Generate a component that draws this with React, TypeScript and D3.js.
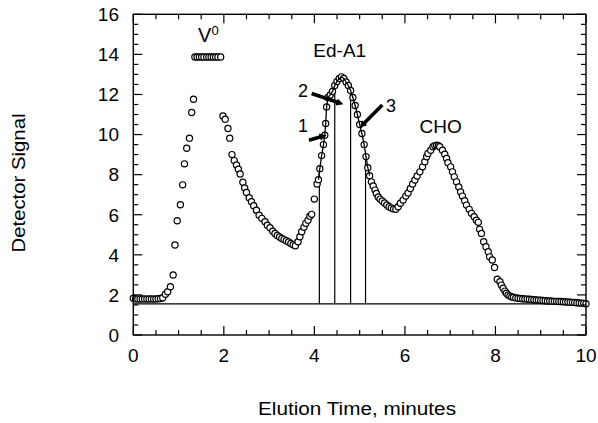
import React from "react";
import * as d3 from "d3";

const times = [
  0.0, 0.05, 0.1, 0.15, 0.2, 0.25, 0.3, 0.35, 0.4, 0.45, 0.5, 0.55, 0.6, 0.65,
  0.71, 0.76, 0.82, 0.88, 0.92, 0.97, 1.04, 1.09, 1.13, 1.18, 1.24, 1.29, 1.33,
  1.36, 1.41, 1.46, 1.51, 1.56, 1.62, 1.67, 1.72, 1.77, 1.82, 1.87, 1.93,
  1.98, 2.03, 2.09, 2.13, 2.18, 2.23, 2.28, 2.32, 2.36, 2.42, 2.46, 2.5, 2.56,
  2.61, 2.66, 2.72, 2.78, 2.84, 2.91, 2.96, 3.02, 3.08, 3.13, 3.18, 3.23, 3.28,
  3.33, 3.38, 3.43, 3.48, 3.53, 3.58, 3.64, 3.68, 3.72, 3.77, 3.81, 3.86, 3.9,
  3.94, 4.0, 4.06, 4.09,
  4.12, 4.16, 4.2, 4.23, 4.25, 4.27, 4.3, 4.35, 4.4, 4.45, 4.5, 4.55, 4.6,
  4.65, 4.7, 4.75, 4.8, 4.85, 4.9, 4.95, 5.0, 5.05, 5.1, 5.14, 5.18, 5.22,
  5.26, 5.3, 5.34, 5.37, 5.41, 5.45, 5.5, 5.55, 5.6, 5.65, 5.7, 5.75, 5.8,
  5.85, 5.9, 5.96, 6.02, 6.07, 6.12, 6.17, 6.22, 6.27, 6.33, 6.39, 6.44, 6.48,
  6.51, 6.57, 6.62, 6.66, 6.7, 6.74, 6.77, 6.83, 6.88, 6.92, 6.95, 7.01, 7.05,
  7.09, 7.14, 7.19, 7.23, 7.27, 7.32, 7.36, 7.42, 7.47, 7.53, 7.58, 7.62, 7.65,
  7.69, 7.74, 7.79, 7.84, 7.87, 7.93, 7.98, 8.04, 8.1, 8.13, 8.17, 8.21, 8.24,
  8.28, 8.32, 8.36, 8.4, 8.45, 8.5,
  8.55, 8.6, 8.65, 8.7, 8.75, 8.8, 8.85, 8.9, 8.95, 9.0, 9.05, 9.1, 9.15, 9.2,
  9.25, 9.3, 9.35, 9.4, 9.45, 9.5, 9.55, 9.6, 9.65, 9.7, 9.75, 9.8, 9.85, 9.9,
  9.95, 10.0,
];

const signal = [
  1.83, 1.8, 1.8, 1.79, 1.8, 1.8, 1.79, 1.8, 1.8, 1.79, 1.8, 1.81, 1.82, 1.86,
  2.03, 2.16, 2.41, 2.99, 4.49, 5.7, 6.5, 7.49, 8.54, 9.32, 9.82, 11.1, 11.76,
  13.87, 13.87, 13.87, 13.87, 13.87, 13.87, 13.87, 13.87, 13.87, 13.87, 13.87, 13.87,
  10.93, 10.77, 10.3, 9.82, 9.0, 8.7, 8.48, 8.27, 8.03, 7.62, 7.34, 7.11, 6.85,
  6.65, 6.45, 6.23, 5.98, 5.82, 5.65, 5.48, 5.35, 5.18, 5.07, 4.97, 4.89, 4.82,
  4.76, 4.7, 4.64, 4.57, 4.5, 4.45, 4.65, 4.9, 5.15, 5.37, 5.57, 5.73, 5.93,
  6.02, 6.78, 7.53, 7.75,
  8.3, 8.95, 9.5, 9.97, 10.55, 11.38, 11.85, 11.98, 12.15, 12.45, 12.65, 12.8, 12.88,
  12.8, 12.62, 12.45, 12.2, 11.85, 11.45, 11.0, 10.5, 10.05, 9.5, 8.9, 8.35, 7.95,
  7.64, 7.43, 7.23, 7.06, 6.89, 6.78, 6.69, 6.59, 6.49, 6.4, 6.34, 6.29, 6.27,
  6.4, 6.57, 6.73, 6.93, 7.09, 7.31, 7.53, 7.73, 7.93, 8.14, 8.39, 8.64, 8.89,
  9.06, 9.22, 9.39, 9.45, 9.47, 9.44, 9.39, 9.22, 9.02, 8.81, 8.59, 8.39, 8.14,
  7.89, 7.64, 7.39, 7.14, 6.93, 6.7, 6.48, 6.27, 6.07, 5.9, 5.73, 5.62, 5.27,
  5.07, 4.65, 4.4, 4.15, 3.9, 3.74, 3.37, 2.78, 2.66, 2.49, 2.33, 2.19, 2.08,
  2.0, 1.94, 1.9, 1.88, 1.85, 1.83,
  1.82, 1.81, 1.8, 1.79, 1.78, 1.77, 1.76, 1.75, 1.74, 1.73, 1.72, 1.71, 1.7, 1.7,
  1.69, 1.68, 1.68, 1.67, 1.67, 1.66, 1.65, 1.65, 1.64, 1.63, 1.62, 1.61, 1.6, 1.59,
  1.58, 1.56,
];

const baselineLevel = 1.55;
const fractionCuts = [4.11, 4.45, 4.8, 5.13];
const peakLineRange = [4.09, 5.22];

const xTicksMajor = [0, 2, 4, 6, 8, 10];
const yTicksMajor = [0, 2, 4, 6, 8, 10, 12, 14, 16];

const peakLabels = [
  { text: "Ed-A1", x: 4.56, y: 13.86 },
  { text: "CHO", x: 6.79, y: 10.07 },
];
const fractionLabels = [
  { text: "1", x: 3.75, y: 10.12 },
  { text: "2", x: 3.75, y: 11.86 },
  { text: "3", x: 5.69, y: 11.12 },
];
const arrows = [
  { x1: 3.88, y1: 9.72, x2: 4.27, y2: 9.97 },
  { x1: 3.94, y1: 12.05, x2: 4.64, y2: 11.51 },
  { x1: 5.5, y1: 11.47, x2: 5.0, y2: 10.34 },
];

const W = 598;
const H = 423;
const M = { left: 133.3, right: 586, top: 14.3, bottom: 335 };
const FONT = "'Liberation Sans', Arial, Helvetica, sans-serif";

export default function App() {
  const x = d3.scaleLinear().domain([0, 10]).range([M.left, M.right]);
  const y = d3.scaleLinear().domain([0, 16]).range([M.bottom, M.top]);

  const pts = times.map((t, i) => [t, signal[i]] as [number, number]);
  const peakPts = pts.filter((p) => p[0] >= peakLineRange[0] && p[0] <= peakLineRange[1]);
  const line = d3
    .line<[number, number]>()
    .x((d) => x(d[0]))
    .y((d) => y(d[1]));

  const curveAt = (t: number) => {
    const i = d3.bisector((d: [number, number]) => d[0]).left(pts, t);
    const a = pts[Math.max(0, i - 1)];
    const b = pts[Math.min(pts.length - 1, i)];
    if (b[0] === a[0]) return a[1];
    return a[1] + ((t - a[0]) / (b[0] - a[0])) * (b[1] - a[1]);
  };

  const xMinor = d3.range(0, 10.001, 0.5);
  const yMinor = d3.range(0, 16.001, 0.5);
  const isMajor = (v: number, step: number) => Math.abs(v / step - Math.round(v / step)) < 1e-6;
  const majorLen = 9;
  const minorLen = 5;

  const arrowPoly = (a: { x1: number; y1: number; x2: number; y2: number }) => {
    const X1 = x(a.x1), Y1 = y(a.y1), X2 = x(a.x2), Y2 = y(a.y2);
    const dx = X2 - X1, dy = Y2 - Y1;
    const L = Math.hypot(dx, dy);
    const ux = dx / L, uy = dy / L;
    const nx = -uy, ny = ux;
    const hl = 7, hw = 3.6, sw = 1.8;
    const bx = X2 - ux * hl, by = Y2 - uy * hl;
    const p = [
      [X1 + nx * sw, Y1 + ny * sw],
      [bx + nx * sw, by + ny * sw],
      [bx + nx * hw, by + ny * hw],
      [X2, Y2],
      [bx - nx * hw, by - ny * hw],
      [bx - nx * sw, by - ny * sw],
      [X1 - nx * sw, Y1 - ny * sw],
    ];
    return p.map((q) => q.join(",")).join(" ");
  };

  return (
    <svg
      width={W}
      height={H}
      style={{ position: "absolute", left: 0, top: 0, background: "#fff" }}
      fontFamily={FONT}
    >
      {/* baseline */}
      <line x1={x(0)} x2={x(10)} y1={y(baselineLevel)} y2={y(baselineLevel)} stroke="#000" strokeWidth={1.2} />

      {/* fraction cut lines */}
      {fractionCuts.map((c, i) => (
        <line key={i} x1={x(c)} x2={x(c)} y1={y(baselineLevel)} y2={y(curveAt(c))} stroke="#000" strokeWidth={1.2} />
      ))}

      {/* data circles */}
      {pts.map((p, i) => (
        <circle key={i} cx={x(p[0])} cy={y(p[1])} r={3.1} fill="#fff" stroke="#000" strokeWidth={1.2} />
      ))}

      {/* peak line */}
      <path d={line(peakPts) || ""} fill="none" stroke="#000" strokeWidth={1.3} />

      {/* frame */}
      <rect x={M.left} y={M.top} width={M.right - M.left} height={M.bottom - M.top} fill="none" stroke="#000" strokeWidth={1.4} />

      {/* ticks */}
      {xMinor.map((v, i) => {
        const len = isMajor(v, 2) ? majorLen : minorLen;
        return (
          <g key={"xt" + i}>
            <line x1={x(v)} x2={x(v)} y1={M.bottom} y2={M.bottom - len} stroke="#000" strokeWidth={1.2} />
            <line x1={x(v)} x2={x(v)} y1={M.top} y2={M.top + len} stroke="#000" strokeWidth={1.2} />
          </g>
        );
      })}
      {yMinor.map((v, i) => {
        const len = isMajor(v, 2) ? majorLen : minorLen;
        return (
          <g key={"yt" + i}>
            <line x1={M.left} x2={M.left + len} y1={y(v)} y2={y(v)} stroke="#000" strokeWidth={1.2} />
            <line x1={M.right} x2={M.right - len} y1={y(v)} y2={y(v)} stroke="#000" strokeWidth={1.2} />
          </g>
        );
      })}

      {/* tick labels */}
      {xTicksMajor.map((v) => (
        <text key={"xl" + v} x={x(v)} y={362} fontSize={19} textAnchor="middle" fill="#000">
          {v}
        </text>
      ))}
      {yTicksMajor.map((v) => (
        <text key={"yl" + v} x={119} y={y(v) + 6.8} fontSize={19} textAnchor="end" fill="#000">
          {v}
        </text>
      ))}

      {/* axis titles */}
      <text x={(258 + 456) / 2} y={415} fontSize={18} textAnchor="middle" textLength={198} lengthAdjust="spacingAndGlyphs" fill="#000">
        Elution Time, minutes
      </text>
      <text
        transform={`translate(25,183) rotate(-90)`}
        fontSize={18}
        textAnchor="middle"
        textLength={139}
        lengthAdjust="spacingAndGlyphs"
        fill="#000"
      >
        Detector Signal
      </text>

      {/* V0 label */}
      <text x={x(1.43)} y={y(14.61)} fontSize={20} fill="#000">
        V
        <tspan fontSize={13} dy={-7}>0</tspan>
      </text>

      {peakLabels.map((l) => (
        <text key={l.text} x={x(l.x)} y={y(l.y)} fontSize={19} textAnchor="middle" fill="#000">
          {l.text}
        </text>
      ))}
      {fractionLabels.map((l) => (
        <text key={l.text} x={x(l.x)} y={y(l.y)} fontSize={18} textAnchor="middle" fill="#000">
          {l.text}
        </text>
      ))}
      {arrows.map((a, i) => (
        <polygon key={"ar" + i} points={arrowPoly(a)} fill="#000" />
      ))}
    </svg>
  );
}
